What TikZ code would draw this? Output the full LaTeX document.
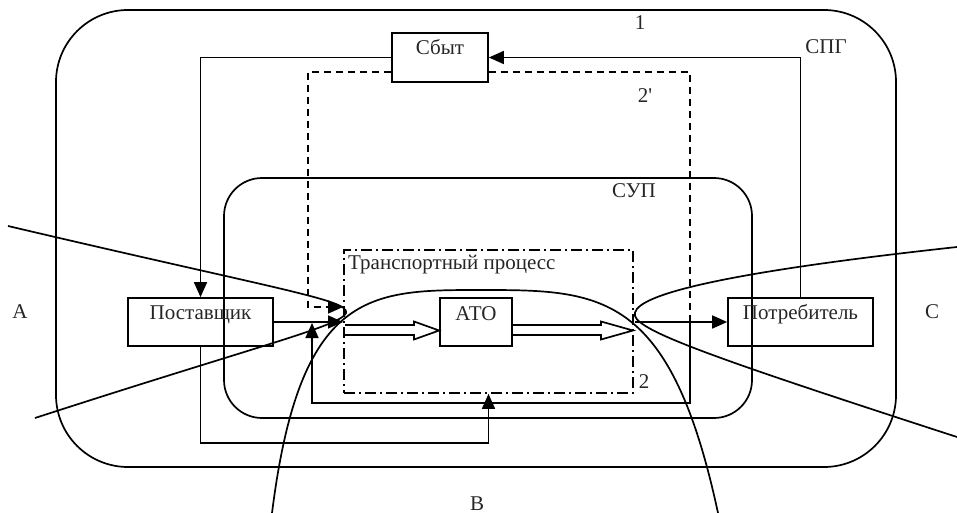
\documentclass[tikz,border=0pt]{standalone}
\usepackage{fontspec}
\setmainfont{Liberation Serif}
\newfontfamily\rawfont{Liberation Serif}[Ligatures=TeXOff]
\usetikzlibrary{arrows.meta,calc}
\begin{document}
\begin{tikzpicture}[x=1pt,y=-1pt,
  txt/.style={font=\fontsize{21}{25}\selectfont, text=black!85, inner sep=0pt},
  ln/.style={line width=1.7pt},
  box/.style={ln, draw, inner sep=0pt},
  arr/.style={ln, -{Triangle[length=15pt,width=13pt]}},
  dsh/.style={ln, dash pattern=on 7pt off 5pt},
  ddot/.style={ln, dash pattern=on 11pt off 4pt on 2pt off 4pt}]
\useasboundingbox (0,0) rectangle (957,513);

% outer and inner rounded frames
\draw[ln, rounded corners=72pt] (56,10) rectangle (896,467);
\draw[ln, rounded corners=38pt] (224,178) rectangle (752,418);

% transport process frame
\node[box, ddot, minimum width=289pt, minimum height=143pt] (tr) at (488.5,321.5) {};
\node[txt, anchor=base west] (trl) at (348,269) {Транспортный процесс};

% boxes
\node[box, minimum width=96pt, minimum height=49pt] (sbyt) at (440,57.5) {};
\node[txt, anchor=base] (sbytl) at (440,55) {Сбыт};
\node[box, minimum width=145pt, minimum height=48pt] (post) at (200.5,322) {};
\node[txt, anchor=base] (postl) at (200.5,319) {Поставщик};
\node[box, minimum width=145pt, minimum height=48pt] (potr) at (800.5,322) {};
\node[txt, anchor=base] (potrl) at (800.5,319) {Потребитель};
\node[box, minimum width=72pt, minimum height=48pt] (ato) at (476,322) {};
\node[txt, anchor=base] (atol) at (476,320) {АТО};

% labels
\node[txt, anchor=base] (l1) at (640,30) {1};
\node[txt, anchor=base] (lspg) at (826,54) {СПГ};
\node[txt, anchor=base] (l2p) at (645,103) {\rawfont 2'};
\node[txt, anchor=base] (lsup) at (634,197) {СУП};
\node[txt, anchor=base] (l2) at (644,388) {2};
\node[txt, anchor=base] (lA) at (20,318) {A};
\node[txt, anchor=base] (lC) at (932,318) {C};
\node[txt, anchor=base] (lB) at (477,510) {B};

% key points
\coordinate (tipD) at (343,307);
\coordinate (tipS) at (343,322);
\coordinate (tipU) at (312,323);
\coordinate (vC) at (635,322);

% solid flows
\draw[arr] (sbyt.west) -| (post.north);
\draw[arr] (potr.north) |- (sbyt.east);
\draw[arr] (post.east) -- (tipS);
\draw[arr] (post.south) -- ++(0,96) -| (tr.south);
\draw[arr] (690,315) -- (690,403) -| (tipU);
\draw[arr] (vC) -- (potr.west);

% dashed flows
\draw[dsh] ([yshift=11pt]sbyt.south east) -| (690,315);
\draw[dsh, -{Triangle[length=15pt,width=13pt]}] ([yshift=11pt]sbyt.south west) -| (308,307) -- (tipD);

% hollow arrows
\draw[ln] (345,325) -- (414,325) -- (414,321.5) -- (ato.west |- 0,330.5) -- (414,339.5) -- (414,335) -- (345,335);
\draw[ln] (ato.east |- 0,325) -- (601,325) -- (601,321.5) -- (633,330.5) -- (601,339.5) -- (601,335) -- (ato.east |- 0,335);

% boundary curves
\draw[ln] (8,226) .. controls (280,290) and (350,300) .. (346,313)
               .. controls (341,326) and (260,345) .. (35,418);
\draw[ln] (957,247) .. controls (700,275) and (630,298) .. (635,316)
               .. controls (640,332) and (720,360) .. (957,437);
\draw[ln] (272,513) .. controls (300,290) and (370,290) .. (480,290)
               .. controls (600,290) and (670,290) .. (718,513);
\end{tikzpicture}
\end{document}
